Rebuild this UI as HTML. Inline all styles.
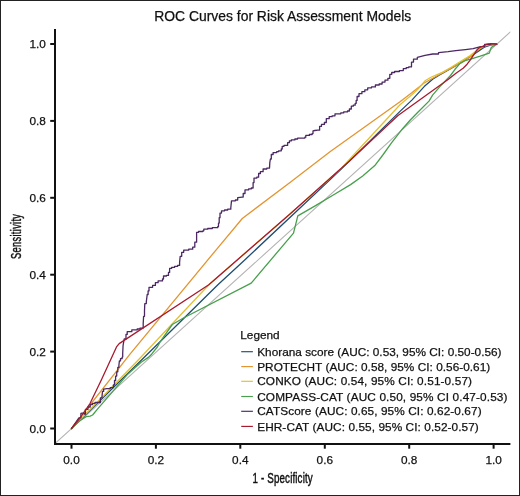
<!DOCTYPE html>
<html><head><meta charset="utf-8"><style>
html,body{margin:0;padding:0;background:#fff;}
svg{display:block;font-family:"Liberation Sans", sans-serif;}
text{filter:grayscale(1);stroke:#111;stroke-width:0.25px;}
</style></head><body>
<svg width="520" height="496" viewBox="0 0 520 496">
<rect x="0.5" y="0.5" width="519" height="495" fill="#fff" stroke="#222" stroke-width="1"/>
<text x="282.75" y="20.6" font-size="13.9" text-anchor="middle" fill="#111">ROC Curves for Risk Assessment Models</text>
<defs><clipPath id="pc"><rect x="54.6" y="28.6" width="455.8" height="415.3"/></clipPath></defs>
<g clip-path="url(#pc)" fill="none" stroke-linejoin="round" stroke-linecap="round">
<line x1="54.6" y1="443.9" x2="510.4" y2="31.8" stroke="#b4b4b4" stroke-width="1.1"/>
<polyline points="71.5,428.5 141.5,360.0 217.9,284.7 245.0,259.7 300.0,208.0 339.7,170.6 400.0,111.4 412.1,99.9 424.2,86.6 432.6,79.3 439.9,74.8 448.4,69.9 460.0,63.3 470.2,56.6 478.8,50.9 484.3,47.1 490.4,45.1 496.7,44.2" stroke="#1f4e72" stroke-width="1.3"/>
<polyline points="71.5,428.5 130.0,354.2 217.0,248.8 242.3,218.5 290.0,182.5 330.0,151.8 400.0,101.7 412.1,92.6 424.2,83.0 436.3,76.3 448.4,69.7 460.0,63.2 470.2,56.8 476.2,51.6 480.2,48.5 484.3,46.4 488.3,44.9 496.7,44.2" stroke="#e39530" stroke-width="1.3"/>
<polyline points="71.5,428.5 138.5,359.8 209.4,284.3 290.0,213.9 341.3,168.2 400.0,104.7 412.1,94.5 418.1,89.0 425.4,80.5 431.4,77.0 442.3,72.4 450.8,67.5 460.0,61.8 470.2,55.6 476.2,50.8 480.2,47.8 484.3,45.8 488.3,44.5 496.7,44.2" stroke="#e2c032" stroke-width="1.3"/>
<polyline points="71.5,428.5 78.1,421.8 86.2,416.6 90.2,416.2 92.6,415.0 98.3,408.1 128.0,373.9 141.1,362.3 148.4,357.4 151.6,354.2 157.3,347.0 160.5,341.3 165.0,334.8 172.3,324.5 184.4,317.5 251.2,283.1 293.5,233.1 297.8,215.9 316.0,205.4 333.3,195.0 350.6,184.6 362.7,176.0 374.8,165.6 383.2,154.5 391.3,143.2 402.6,128.7 410.3,120.0 418.1,112.0 429.0,101.1 432.6,95.1 439.9,86.6 450.5,75.5 455.0,69.3 460.1,63.4 465.1,60.7 472.2,58.7 480.2,56.2 486.3,54.1 489.3,53.1 490.3,50.1 491.3,47.6 493.3,46.1 496.7,44.2" stroke="#48a04d" stroke-width="1.3"/>
<polyline points="71.5,428.5 78.9,417.8 80.9,417.8 80.9,413.4 82.1,413.1 84.1,413.1 84.1,414.2 85.4,414.2 85.4,409.3 88.0,409.3 88.0,407.0 90.2,407.0 90.2,404.5 92.6,404.5 92.6,403.3 95.0,403.3 95.0,402.5 97.5,402.5 100.4,402.5 100.4,397.9 102.0,397.9 102.0,396.3 102.5,391.4 103.6,391.4 103.6,389.2 106.9,388.7 110.2,388.7 110.2,387.6 112.3,387.6 113.4,387.6 113.4,384.9 114.5,384.9 114.5,380.5 115.6,380.5 115.6,376.1 116.7,376.1 116.7,371.8 117.8,371.8 117.8,367.4 118.9,367.4 118.9,365.3 119.4,360.9 120.5,360.9 120.5,358.7 122.1,358.7 122.1,357.1 122.7,357.1 122.7,353.3 123.1,345.3 124.2,339.0 126.0,339.0 126.0,334.4 127.2,334.4 127.2,331.7 130.0,331.7 131.8,331.7 131.8,329.9 134.5,329.9 137.2,329.9 137.2,329.0 140.0,329.0 140.0,328.1 142.3,328.1 143.2,328.1 143.2,323.6 143.6,316.3 144.5,316.3 144.5,310.9 144.8,303.6 146.3,303.6 146.3,301.8 147.2,294.5 148.1,294.5 148.1,290.9 149.0,290.9 149.0,287.3 152.6,287.3 152.6,285.4 155.4,285.4 155.4,282.7 158.1,282.7 158.1,280.9 162.5,280.9 162.5,279.0 163.5,279.0 163.5,276.0 166.5,276.0 166.5,275.4 168.5,275.4 168.5,272.4 169.6,272.4 169.6,268.4 171.6,268.4 171.6,267.4 174.6,267.4 174.6,266.4 177.6,266.4 177.6,265.4 179.6,265.4 179.6,262.3 180.2,256.3 181.7,256.3 181.7,252.3 183.7,252.3 183.7,250.2 188.7,250.2 188.7,249.2 192.7,249.2 192.7,247.2 194.8,247.2 194.8,242.2 196.6,242.2 196.6,240.0 196.6,232.3 198.5,232.3 198.5,231.5 202.8,231.5 202.8,230.8 203.8,230.8 203.8,229.2 207.7,229.2 207.7,228.5 212.3,228.5 212.3,227.7 217.7,227.7 217.7,226.6 218.5,226.6 218.5,223.1 219.2,223.1 219.2,217.7 220.0,217.7 220.0,213.1 221.5,213.1 221.5,210.8 224.6,210.8 224.6,210.0 227.7,210.0 227.7,209.2 230.8,209.2 230.8,207.7 231.5,200.8 235.4,200.8 235.4,200.0 237.7,200.0 237.7,197.7 242.3,197.1 243.2,197.1 243.2,193.5 245.0,193.5 245.0,189.9 248.6,189.9 248.6,188.9 251.3,188.9 251.3,188.0 253.1,188.0 253.1,182.6 254.0,182.6 254.0,178.1 256.8,178.1 256.8,177.2 258.6,177.2 258.6,173.5 260.4,173.5 260.4,171.7 263.1,171.7 263.1,169.0 266.8,169.0 266.8,168.1 269.5,168.1 269.8,162.6 270.4,159.0 271.3,159.0 271.3,154.5 273.1,154.5 273.1,152.6 276.7,152.6 276.7,151.7 278.6,151.7 278.6,150.8 281.3,150.8 281.3,149.0 282.2,149.0 282.2,146.3 284.0,146.3 284.0,145.4 286.7,145.4 287.6,145.4 287.6,142.7 289.4,142.7 289.4,140.9 291.3,140.9 291.3,139.9 294.9,139.9 294.9,139.0 297.6,139.0 297.6,138.1 301.2,138.1 304.9,138.1 304.9,137.2 305.8,137.2 305.8,135.4 309.4,135.4 309.4,134.5 312.1,134.5 312.1,133.6 313.0,133.6 313.0,130.9 314.9,130.5 317.7,130.2 319.6,130.2 319.6,126.3 321.5,126.3 321.5,124.4 324.4,124.4 324.4,122.5 326.3,122.5 326.3,118.7 329.2,118.7 329.2,116.7 332.1,116.7 332.1,115.8 335.0,115.8 335.0,113.8 338.8,113.8 340.8,113.8 340.8,112.9 343.7,112.9 343.7,111.9 347.5,111.9 347.5,111.0 349.4,111.0 349.4,109.0 351.3,109.0 351.3,106.2 353.3,106.2 353.3,105.2 355.2,105.2 355.2,103.3 356.2,103.3 356.2,100.4 357.1,100.4 357.1,96.5 359.0,96.5 359.0,93.7 361.9,93.7 361.9,91.7 364.8,91.7 364.8,89.8 367.7,89.8 367.7,87.9 371.5,87.9 371.5,86.9 375.4,86.9 375.4,85.0 379.2,85.0 379.2,84.0 382.1,84.0 382.1,82.1 385.0,82.1 385.0,80.2 387.9,80.2 387.9,78.3 389.8,78.3 389.8,74.4 391.7,74.4 391.7,72.5 394.6,72.5 394.6,71.5 399.4,71.5 399.4,70.6 403.3,70.6 403.3,68.7 406.2,68.7 406.2,67.7 408.7,67.7 408.7,66.9 411.5,66.9 411.5,62.1 413.5,62.1 413.5,59.2 417.3,59.2 417.3,57.3 425.0,55.4 432.7,54.0 438.5,54.0 438.5,52.6 448.1,51.7 455.8,50.6 465.4,49.6 473.1,48.7 480.8,46.7 484.6,46.7 484.6,44.3 490.4,44.3 490.4,43.6 496.7,44.2" stroke="#4b2862" stroke-width="1.3"/>
<polyline points="71.5,428.5 80.0,418.0 90.0,403.5 101.8,379.0 116.5,346.9 119.2,343.6 208.8,284.8 290.0,213.9 349.2,161.2 398.0,115.5 448.4,79.2 456.0,73.3 463.1,68.3 467.1,64.2 470.2,60.2 474.2,54.1 477.2,49.6 480.2,47.1 483.3,46.1 486.3,44.3 488.3,43.8 494.4,43.8 496.7,44.2" stroke="#a81a2e" stroke-width="1.3"/>
</g>
<g stroke="#111" stroke-width="2" fill="none">
<path d="M55,29 V443.9 H510.4"/>
<line x1="71.5" y1="443.9" x2="71.5" y2="448.7"/>
<line x1="155.9" y1="443.9" x2="155.9" y2="448.7"/>
<line x1="240.3" y1="443.9" x2="240.3" y2="448.7"/>
<line x1="324.8" y1="443.9" x2="324.8" y2="448.7"/>
<line x1="409.2" y1="443.9" x2="409.2" y2="448.7"/>
<line x1="493.6" y1="443.9" x2="493.6" y2="448.7"/>
<line x1="50.2" y1="428.5" x2="55" y2="428.5"/>
<line x1="50.2" y1="351.6" x2="55" y2="351.6"/>
<line x1="50.2" y1="274.7" x2="55" y2="274.7"/>
<line x1="50.2" y1="197.8" x2="55" y2="197.8"/>
<line x1="50.2" y1="120.9" x2="55" y2="120.9"/>
<line x1="50.2" y1="44.0" x2="55" y2="44.0"/>
</g>
<g font-size="11.8" fill="#111">
<text x="71.5" y="463.5" text-anchor="middle">0.0</text>
<text x="155.9" y="463.5" text-anchor="middle">0.2</text>
<text x="240.3" y="463.5" text-anchor="middle">0.4</text>
<text x="324.8" y="463.5" text-anchor="middle">0.6</text>
<text x="409.2" y="463.5" text-anchor="middle">0.8</text>
<text x="493.6" y="463.5" text-anchor="middle">1.0</text>
<text x="45.8" y="432.6" text-anchor="end">0.0</text>
<text x="45.8" y="355.7" text-anchor="end">0.2</text>
<text x="45.8" y="278.8" text-anchor="end">0.4</text>
<text x="45.8" y="201.9" text-anchor="end">0.6</text>
<text x="45.8" y="125.0" text-anchor="end">0.8</text>
<text x="45.8" y="48.1" text-anchor="end">1.0</text>
</g>
<text transform="translate(282.7,483.3) scale(0.70,1)" font-size="14" text-anchor="middle" fill="#111" style="stroke-width:0.45px" letter-spacing="0.2">1 - Specificity</text>
<text transform="translate(21,236.3) rotate(-90) scale(0.64,1)" font-size="14.5" text-anchor="middle" fill="#111" style="stroke-width:0.45px" letter-spacing="0.5">Sensitivity</text>
<text x="240.3" y="339.2" font-size="11.8" fill="#111">Legend</text>
<line x1="241.2" y1="351.7" x2="252.9" y2="351.7" stroke="#1f4e72" stroke-width="1.15"/>
<text x="257.2" y="355.8" font-size="11.8" fill="#111" textLength="244.3" lengthAdjust="spacing">Khorana score (AUC: 0.53, 95% CI: 0.50-0.56)</text>
<line x1="241.2" y1="366.6" x2="252.9" y2="366.6" stroke="#e39530" stroke-width="1.15"/>
<text x="257.2" y="370.7" font-size="11.8" fill="#111" textLength="233.0" lengthAdjust="spacing">PROTECHT (AUC: 0.58, 95% CI: 0.56-0.61)</text>
<line x1="241.2" y1="381.3" x2="252.9" y2="381.3" stroke="#e2c032" stroke-width="1.15"/>
<text x="257.2" y="385.4" font-size="11.8" fill="#111" textLength="214.8" lengthAdjust="spacing">CONKO (AUC: 0.54, 95% CI: 0.51-0.57)</text>
<line x1="241.2" y1="396.5" x2="252.9" y2="396.5" stroke="#48a04d" stroke-width="1.15"/>
<text x="257.2" y="400.6" font-size="11.8" fill="#111" textLength="250.3" lengthAdjust="spacing">COMPASS-CAT (AUC 0.50, 95% CI 0.47-0.53)</text>
<line x1="241.2" y1="411.3" x2="252.9" y2="411.3" stroke="#4b2862" stroke-width="1.15"/>
<text x="257.2" y="415.4" font-size="11.8" fill="#111" textLength="224.4" lengthAdjust="spacing">CATScore (AUC: 0.65, 95% CI: 0.62-0.67)</text>
<line x1="241.2" y1="426.4" x2="252.9" y2="426.4" stroke="#a81a2e" stroke-width="1.15"/>
<text x="257.2" y="430.5" font-size="11.8" fill="#111" textLength="221.6" lengthAdjust="spacing">EHR-CAT (AUC: 0.55, 95% CI: 0.52-0.57)</text>
</svg>
</body></html>
